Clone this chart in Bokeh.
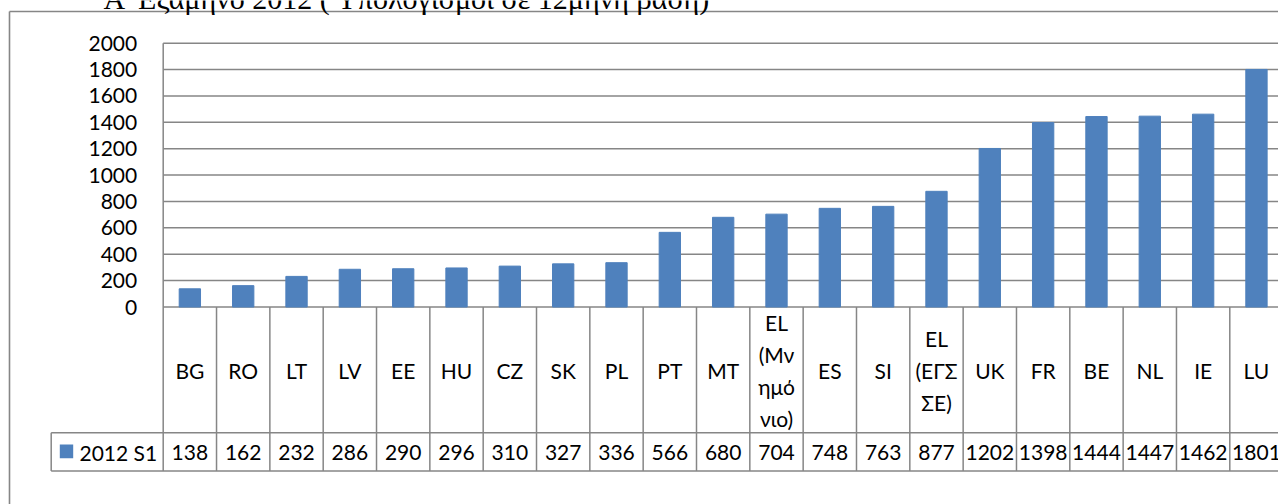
from bokeh.plotting import figure
from bokeh.models import Range1d, FixedTicker, ColumnDataSource, LinearAxis
from bokeh.core.properties import value
from bokeh.embed import file_html
from bokeh.resources import INLINE

# ---- data ----
title_text = "Α' Εξάμηνο 2012 ( Υπολογισμοί σε 12μηνη βάση)"
categories = ["BG", "RO", "LT", "LV", "EE", "HU", "CZ", "SK", "PL", "PT", "MT",
              "EL\n(Μν\nημό\nνιο)", "ES", "SI", "EL\n(ΕΓΣ\nΣΕ)", "UK", "FR", "BE",
              "NL", "IE", "LU"]
values = [138, 162, 232, 286, 290, 296, 310, 327, 336, 566, 680, 704, 748, 763,
          877, 1202, 1398, 1444, 1447, 1462, 1801]
series_name = "2012 S1"
y_ticks = [0, 200, 400, 600, 800, 1000, 1200, 1400, 1600, 1800, 2000]

# ---- layout constants (screen pixels) ----
W, H = 1278, 504
PX = 53.33            # width of one category column
X0 = 162.7            # x of the first column's left edge (value axis)
Y_TOP_PX = 42.7       # y of the top tick
Y_ZERO_PX = 306.5     # y of zero
ymax = max(y_ticks)
k = ymax / (Y_ZERO_PX - Y_TOP_PX)


def dx(px):
    return (px - X0) / PX


def dy(py):
    return (Y_ZERO_PX - py) * k


n = len(categories)
xs = [i + 0.5 for i in range(n)]

FONT = "Lato"
FS = "21px"
GRID = "#868686"
BORDER = "#868686"
BLUE = "#4F81BD"
LW = 1.5

p = figure(width=W, height=H, x_range=Range1d(dx(0), dx(W)),
           y_range=Range1d(dy(H), dy(0)), output_backend="svg",
           toolbar_location=None, x_axis_location=None, y_axis_location=None,
           min_border=0, outline_line_color=None,
           background_fill_color="white", border_fill_color="white")
p.xgrid.visible = False
p.ygrid.visible = False

# value axis, fixed at the first column edge
ax = LinearAxis(fixed_location=0, ticker=FixedTicker(ticks=y_ticks))
ax.axis_line_color = None
ax.major_tick_line_color = None
ax.minor_tick_line_color = None
ax.major_tick_out = 0
ax.major_tick_in = 0
ax.major_label_standoff = 26
ax.major_label_text_font = FONT
ax.major_label_text_font_size = FS
ax.major_label_text_color = "black"
p.add_layout(ax, "left")

# chart area border (left and top edges visible)
p.segment(x0=[dx(9), dx(9)], y0=[dy(11), dy(11)], x1=[dx(9), dx(W + 10)],
          y1=[dy(H + 10), dy(11)], line_color=BORDER, line_width=1.6)

# title (cut by the top edge)
p.text(x=[dx(103)], y=[dy(-2.5)], text=[title_text], text_align="left",
       text_baseline="alphabetic", text_font=value("Liberation Serif"),
       text_font_size="30px", text_color="black")

# horizontal gridlines
p.segment(x0=[0] * len(y_ticks), y0=y_ticks, x1=[n] * len(y_ticks), y1=y_ticks,
          line_color=GRID, line_width=LW)

src = ColumnDataSource(dict(x=xs, top=values, cat=categories,
                            val=[str(v) for v in values]))

p.vbar(x="x", top="top", bottom=0, width=0.4, source=src,
       fill_color=BLUE, line_color=BLUE)

# data table
row_div = dy(432.3)
table_bot = dy(470.5)
leg_left = dx(50.7)
bounds = list(range(n + 1))
p.segment(x0=bounds, y0=[ymax] + [0] * n, x1=bounds, y1=[table_bot] * (n + 1),
          line_color=GRID, line_width=LW)
p.segment(x0=[leg_left, leg_left, leg_left], y0=[row_div, table_bot, row_div],
          x1=[n, n, leg_left], y1=[row_div, table_bot, table_bot],
          line_color=GRID, line_width=LW)

p.text(x="x", y=dy(370), text="cat", source=src, text_align="center",
       text_baseline="middle", text_font=value(FONT), text_font_size=FS,
       text_color="black", text_line_height=1.27)
p.text(x="x", y=dy(451.5), text="val", source=src, text_align="center",
       text_baseline="middle", text_font=value(FONT), text_font_size=FS,
       text_color="black")

# legend key inside the table
p.quad(left=[dx(59.3)], right=[dx(72.7)], top=[dy(444)], bottom=[dy(457.7)],
       fill_color=BLUE, line_color=None)
p.text(x=[dx(79)], y=[dy(451.5)], text=[series_name], text_align="left",
       text_baseline="middle", text_font=value(FONT), text_font_size=FS,
       text_color="black")

open("out.html", "w").write(file_html(p, INLINE))
